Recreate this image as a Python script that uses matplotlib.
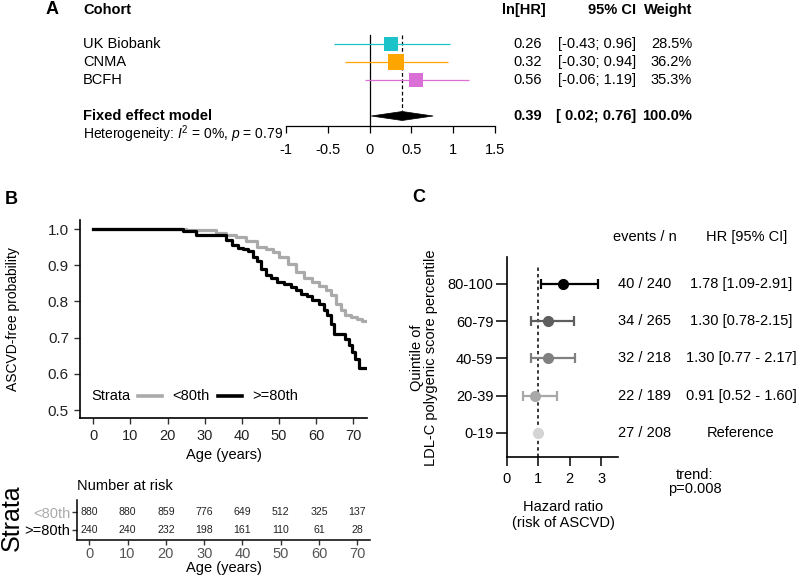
import matplotlib
matplotlib.use('Agg')
import matplotlib.pyplot as plt
from matplotlib.transforms import blended_transform_factory as blend
from matplotlib.patches import Polygon
from matplotlib.lines import Line2D
import numpy as np

plt.rcParams['font.family'] = ['Liberation Sans', 'DejaVu Sans']
plt.rcParams['mathtext.fontset'] = 'custom'
plt.rcParams['mathtext.rm'] = 'Liberation Sans'
plt.rcParams['mathtext.it'] = 'Liberation Sans:italic'
plt.rcParams['axes.unicode_minus'] = False

# ---------------- data: panel A (meta-analysis) ----------------
studies = ['UK Biobank', 'CNMA', 'BCFH']
lnhr = [0.26, 0.32, 0.56]
ci_lo = [-0.43, -0.30, -0.06]
ci_hi = [0.96, 0.94, 1.19]
weights = [28.5, 36.2, 35.3]
study_colors = ['#1cc3c8', '#ffa500', '#da70d6']
pooled_label = 'Fixed effect model'
pooled_est = 0.39
pooled_lo = 0.02
pooled_hi = 0.76
pooled_weight = 100.0
het_text = r'Heterogeneity: $I^2$ = 0%, $p$ = 0.79'
forest_ticks = [-1, -0.5, 0, 0.5, 1, 1.5]
forest_tick_labels = ['-1', '-0.5', '0', '0.5', '1', '1.5']

# ---------------- data: panel B (Kaplan-Meier) ----------------
km_age_lo = [0, 25, 33, 35.8, 38.4, 41.1, 44.2, 46.5, 48.3, 50.0, 52.3, 54.5,
             56.8, 59.0, 60.8, 62.6, 63.9, 65.3, 66.6, 67.9, 69.3, 71.0, 72.4, 73.5]
km_surv_lo = [1.0, 0.997, 0.99, 0.984, 0.978, 0.966, 0.95, 0.944, 0.936, 0.923, 0.904, 0.881,
              0.865, 0.854, 0.844, 0.831, 0.817, 0.794, 0.775, 0.762, 0.757, 0.752, 0.745, 0.745]
km_age_hi = [0, 24.1, 27.7, 35.8, 37.3, 38.9, 40.2, 41.6, 42.9, 44.2, 45.2, 46.5, 47.8,
             49.6, 51.4, 53.2, 54.5, 55.9, 57.6, 59.0, 60.8, 62.1, 63.0, 63.9, 64.8,
             67.9, 68.8, 69.7, 70.6, 71.5, 73.4]
km_surv_hi = [1.0, 0.994, 0.984, 0.969, 0.955, 0.948, 0.944, 0.938, 0.923, 0.911, 0.89, 0.872, 0.865,
              0.855, 0.849, 0.84, 0.831, 0.821, 0.815, 0.803, 0.794, 0.775, 0.762, 0.738, 0.711,
              0.697, 0.679, 0.66, 0.642, 0.617, 0.617]
strata_names = ['<80th', '>=80th']
strata_colors = ['#aaaaaa', '#000000']
km_yticks = [0.5, 0.6, 0.7, 0.8, 0.9, 1.0]
km_xticks = [0, 10, 20, 30, 40, 50, 60, 70]
risk_times = [0, 10, 20, 30, 40, 50, 60, 70]
risk_lo = [880, 880, 859, 776, 649, 512, 325, 137]
risk_hi = [240, 240, 232, 198, 161, 110, 61, 28]

# ---------------- data: panel C (quintile HRs) ----------------
quintiles = ['0-19', '20-39', '40-59', '60-79', '80-100']
q_hr = [1.0, 0.91, 1.30, 1.30, 1.78]
q_lo = [None, 0.52, 0.77, 0.78, 1.09]
q_hi = [None, 1.60, 2.17, 2.15, 2.91]
q_events = [27, 22, 32, 34, 40]
q_n = [208, 189, 218, 265, 240]
q_hr_text = ['Reference', '0.91 [0.52 - 1.60]', '1.30 [0.77 - 2.17]',
             '1.30 [0.78-2.15]', '1.78 [1.09-2.91]']
q_colors = ['#d4d4d4', '#a8a8a8', '#808080', '#5e5e5e', '#000000']
c_xticks = [0, 1, 2, 3]

# ---------------- figure setup ----------------
W, H = 800, 578
fig = plt.figure(figsize=(W / 100, H / 100), dpi=100)


def axpx(x0, y0, x1, y1):
    return fig.add_axes([x0 / W, 1 - y1 / H, (x1 - x0) / W, (y1 - y0) / H])


def ftext(x, y, s, **kw):
    return fig.text(x / W, 1 - y / H, s, **kw)


# ================= Panel A =================
axA = axpx(286, 30, 495, 126)
axA.set_xlim(-1, 1.5)
axA.set_ylim(5.556, 0.222)
rowsA = [1, 2, 3]
pooled_row = 5
for r, est, lo, hi, w, c in zip(rowsA, lnhr, ci_lo, ci_hi, weights, study_colors):
    axA.plot([lo, hi], [r, r], color=c, lw=0.9, solid_capstyle='butt', zorder=2)
    side_px = 2.5 * np.sqrt(w)
    axA.plot([est], [r], marker='s', ms=side_px * 0.72, color=c, mec=c, mew=0, zorder=3)
axA.plot([0, 0], [0.5, 5.556], color='black', lw=0.9, clip_on=False, zorder=1)
axA.plot([pooled_est, pooled_est], [0.5, pooled_row - 0.25], color='black', lw=0.9,
         ls=(0, (3, 2)), clip_on=False, zorder=1)
dh = 0.25
axA.add_patch(Polygon([(pooled_lo, pooled_row), (pooled_est, pooled_row - dh),
                       (pooled_hi, pooled_row), (pooled_est, pooled_row + dh)],
                      closed=True, facecolor='black', edgecolor='black', lw=0.5, zorder=3))
for s in ['left', 'right', 'top']:
    axA.spines[s].set_visible(False)
axA.spines['bottom'].set_linewidth(0.9)
axA.set_yticks([])
axA.set_xticks(forest_ticks)
axA.set_xticklabels(forest_tick_labels, fontsize=10.5)
axA.tick_params(axis='x', length=5, width=0.9, pad=7)
axA.patch.set_visible(False)

trA = blend(fig.transFigure, axA.transData)
fsA = 10.5
hdr_row = 1 + (10 - 44) / 18
het_row = 1 + (134 - 44) / 18
axA.text(83 / W, hdr_row, 'Cohort', transform=trA, ha='left', va='center', fontsize=fsA, fontweight='bold')
axA.text(546 / W, hdr_row, 'ln[HR]', transform=trA, ha='right', va='center', fontsize=fsA, fontweight='bold')
axA.text(636 / W, hdr_row, '95% CI', transform=trA, ha='right', va='center', fontsize=fsA, fontweight='bold')
axA.text(692 / W, hdr_row, 'Weight', transform=trA, ha='right', va='center', fontsize=fsA, fontweight='bold')
for r, name, est, lo, hi, w in zip(rowsA, studies, lnhr, ci_lo, ci_hi, weights):
    axA.text(83 / W, r, name, transform=trA, ha='left', va='center', fontsize=fsA)
    axA.text(542 / W, r, f'{est:.2f}', transform=trA, ha='right', va='center', fontsize=fsA)
    axA.text(636 / W, r, f'[{lo:5.2f}; {hi:.2f}]', transform=trA, ha='right', va='center', fontsize=fsA)
    axA.text(692 / W, r, f'{w:.1f}%', transform=trA, ha='right', va='center', fontsize=fsA)
axA.text(83 / W, pooled_row, pooled_label, transform=trA, ha='left', va='center', fontsize=fsA, fontweight='bold')
axA.text(542 / W, pooled_row, f'{pooled_est:.2f}', transform=trA, ha='right', va='center', fontsize=fsA, fontweight='bold')
axA.text(636 / W, pooled_row, f'[{pooled_lo:5.2f}; {pooled_hi:.2f}]', transform=trA, ha='right', va='center',
         fontsize=fsA, fontweight='bold')
axA.text(692 / W, pooled_row, f'{pooled_weight:.1f}%', transform=trA, ha='right', va='center', fontsize=fsA,
         fontweight='bold')
axA.text(83 / W, het_row, het_text, transform=trA, ha='left', va='center', fontsize=10)

ftext(52.5, 9, 'A', ha='center', va='center', fontsize=13, fontweight='bold')

# ================= Panel B: KM =================
axB = axpx(80, 220, 367, 418)
axB.set_xlim(-3.57, 73.7)
axB.set_ylim(0.478, 1.025)
axB.step(km_age_lo, km_surv_lo, where='post', color=strata_colors[0], lw=2.3, zorder=2)
axB.step(km_age_hi, km_surv_hi, where='post', color=strata_colors[1], lw=2.3, zorder=3)
for s in ['right', 'top']:
    axB.spines[s].set_visible(False)
for s in ['left', 'bottom']:
    axB.spines[s].set_linewidth(1.2)
axB.set_yticks(km_yticks)
axB.set_yticklabels([f'{v:.1f}' for v in km_yticks], fontsize=11)
axB.set_xticks(km_xticks)
axB.set_xticklabels([str(v) for v in km_xticks], fontsize=10.5)
axB.tick_params(axis='both', length=4, width=1.0, color='#333333', labelcolor='#222222')
axB.tick_params(axis='y', pad=4)
axB.tick_params(axis='x', pad=4)
ftext(223.5, 455, 'Age (years)', ha='center', va='center', fontsize=10.5)
ftext(13, 319, 'ASCVD-free probability', ha='center', va='center', rotation=90, fontsize=10)
ftext(11, 200, 'B', ha='center', va='center', fontsize=13, fontweight='bold')

# legend (manual, ggplot-like horizontal)
ftext(91.7, 396, 'Strata', ha='left', va='center', fontsize=10.5)
for (x0, x1), tx, name, c in zip([(138, 162), (218, 242)], [172, 252], strata_names, strata_colors):
    fig.add_artist(Line2D([x0 / W, x1 / W], [1 - 396 / H, 1 - 396 / H], color=c, lw=2.6,
                          transform=fig.transFigure))
    ftext(tx, 396, name, ha='left', va='center', fontsize=10.5)

# number at risk table
axT = axpx(77, 500, 370, 540)
axT.set_xlim(-3.2, 73.3)
axT.set_ylim(-0.556, 1.667)
for t, a, b in zip(risk_times, risk_lo, risk_hi):
    axT.text(t, 1, str(a), ha='center', va='center', fontsize=7.6, color='#222222')
    axT.text(t, 0, str(b), ha='center', va='center', fontsize=7.6, color='#222222')
for s in ['right', 'top']:
    axT.spines[s].set_visible(False)
for s in ['left', 'bottom']:
    axT.spines[s].set_linewidth(1.1)
axT.set_yticks([1, 0])
axT.set_yticklabels(strata_names, fontsize=10.5)
for lab, c in zip(axT.get_yticklabels(), strata_colors):
    lab.set_color(c)
axT.set_xticks(km_xticks)
axT.set_xticklabels([str(v) for v in km_xticks], fontsize=10.5, color='#555555')
axT.tick_params(axis='both', length=3.5, width=1.0, color='#333333', pad=1.5)
axT.patch.set_visible(False)
ftext(77, 486, 'Number at risk', ha='left', va='center', fontsize=10.5)
ftext(223.5, 568, 'Age (years)', ha='center', va='center', fontsize=10.5)
ftext(12, 518, 'Strata', ha='center', va='center', rotation=90, fontsize=18)

# ================= Panel C =================
axC = axpx(506.7, 256.7, 618, 457)
axC.set_xlim(0, 3.53)
axC.set_ylim(-0.65, 4.73)
rowsC = list(range(len(quintiles)))
axC.plot([1, 1], [-0.65, 4.5], color='black', lw=1.1, ls=(0, (2.2, 2)), zorder=1)
for r, hr, lo, hi, c in zip(rowsC, q_hr, q_lo, q_hi, q_colors):
    if lo is None:
        axC.plot([hr], [r], 'o', color=c, ms=7, zorder=3)
    else:
        axC.errorbar([hr], [r], xerr=[[hr - lo], [hi - hr]], fmt='o', color=c, ms=7,
                     elinewidth=1.6, capsize=3.8, capthick=1.6, zorder=3)
for s in ['right', 'top']:
    axC.spines[s].set_visible(False)
for s in ['left', 'bottom']:
    axC.spines[s].set_linewidth(1.2)
axC.set_yticks(rowsC)
axC.set_yticklabels(quintiles, fontsize=10.5)
axC.set_xticks(c_xticks)
axC.set_xticklabels([str(v) for v in c_xticks], fontsize=10.5)
axC.tick_params(axis='y', length=8, width=1.1, pad=1.5)
axC.tick_params(axis='x', length=6.5, width=1.1, pad=4)
axC.patch.set_visible(False)

trC = blend(fig.transFigure, axC.transData)
hdrC = (432.7 - 237) / 37.2
axC.text(645 / W, hdrC, 'events / n', transform=trC, ha='center', va='center', fontsize=10.5)
axC.text(747 / W, hdrC, 'HR [95% CI]', transform=trC, ha='center', va='center', fontsize=10.5)
for r, e, n, t in zip(rowsC, q_events, q_n, q_hr_text):
    axC.text(645 / W, r, f'{e} / {n}', transform=trC, ha='center', va='center', fontsize=10.5)
    axC.text(741 / W, r, t, transform=trC, ha='center', va='center', fontsize=10.5)

ftext(563, 515, 'Hazard ratio\n(risk of ASCVD)', ha='center', va='center', fontsize=10.5,
      linespacing=1.15)
ftext(424, 358, 'Quintile of\nLDL-C polygenic score percentile', ha='center', va='center',
      rotation=90, fontsize=10.5, linespacing=1.05, multialignment='center')
ftext(695, 482, 'trend:\np=0.008', ha='center', va='center', fontsize=10.5, linespacing=1.0,
      multialignment='center')
ftext(419, 197, 'C', ha='center', va='center', fontsize=13, fontweight='bold')

fig.savefig('out.png', dpi=100)
